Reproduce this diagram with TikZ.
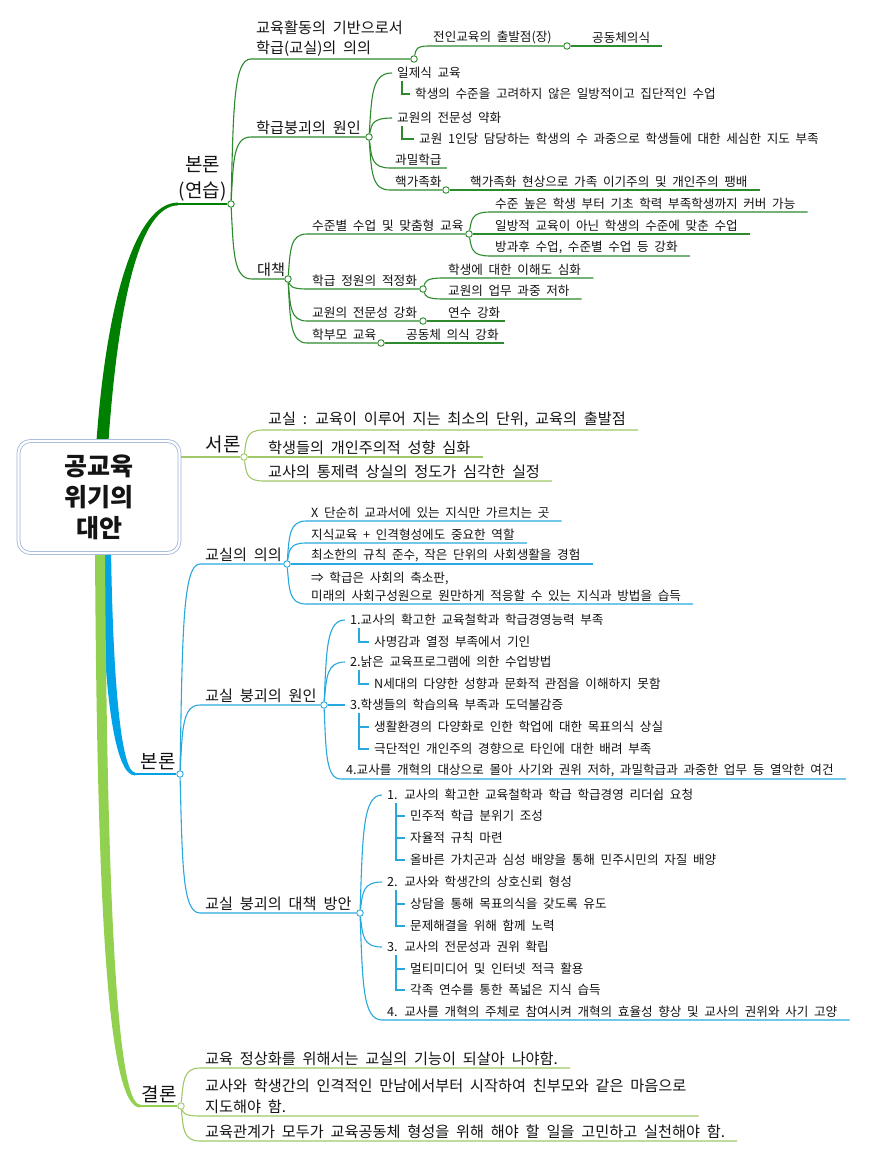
\documentclass[tikz,border=0pt]{standalone}
\usepackage{fontspec}
\setmainfont[WordSpace=2.0]{Noto Sans CJK KR}
\usetikzlibrary{positioning,calc,backgrounds}

\definecolor{ink}{RGB}{20,20,20}
\definecolor{deepgreen}{RGB}{0,128,0}
\definecolor{treegreen}{RGB}{45,138,45}
\definecolor{limegreen}{RGB}{146,208,80}
\definecolor{palegreen}{RGB}{160,200,105}
\definecolor{skyblue}{RGB}{0,162,232}
\definecolor{lineblue}{RGB}{40,168,222}
\definecolor{frameblue}{RGB}{160,180,215}

\tikzset{
  txt/.style={inner xsep=5pt, inner ysep=2pt, text=ink, align=left},
  lvlone/.style={txt, font=\fontsize{15.2}{20.5}\selectfont},
  lvltwo/.style={txt, font=\fontsize{12.7}{18}\selectfont},
  leaftxt/.style={txt, font=\fontsize{12.6}{18.5}\selectfont},
  bigtxt/.style={txt, font=\fontsize{15.2}{21.5}\selectfont},
  topictxt/.style={inner sep=2pt, text=ink, align=center, font=\fontsize{19}{26}\selectfont},
  rootbox/.style={draw=frameblue, double=white, double distance=2.2pt, line width=0.8pt,
    rounded corners=12pt, fill=white, minimum width=161pt, minimum height=112pt,
    align=center, text=ink, font=\fontsize{25}{31}\selectfont\bfseries},
  knob/.style={circle, fill=white, inner sep=0pt, minimum size=6.5pt, line width=0.9pt},
  tknob/.style={knob, draw=treegreen},
  pknob/.style={knob, draw=palegreen},
  bknob/.style={knob, draw=lineblue},
  tline/.style={draw=treegreen, line width=1.1pt},
  pline/.style={draw=palegreen, line width=1.1pt},
  bline/.style={draw=lineblue, line width=1.1pt},
  link/.style={to path={let \p1=(\tikztostart), \p2=(\tikztotarget) in
    .. controls ({\x1+0.12*(\x2-\x1)},{\y1+0.65*(\y2-\y1)}) and ({\x1+0.12*(\x2-\x1)},{\y2}) .. (\tikztotarget)}}
}

\begin{document}
\begin{tikzpicture}[x=1pt,y=-1pt]
   \useasboundingbox (0,0) rectangle (876,1156);

   \node[rootbox] at (99,497) (root) {공교육\\위기의\\대안};

   \node[topictxt, anchor=south east] at (229,203) (drill) {본론\\(연습)};
   \node[tknob] at (231,204) (kdrill) {};
   \coordinate (drillfoot) at (178,204);
   \node[lvlone, anchor=south west] at (251,59) (base) {교육활동의 기반으로서\\학급(교실)의 의의};
   \node[tknob] at (414,59) (kbase) {};
   \node[leaftxt, anchor=south west] at (428,46) (whole) {전인교육의 출발점(장)};
   \node[tknob] at (567,46) (kwhole) {};
   \node[leaftxt, anchor=south west] at (587,46) (commun) {공동체의식};
   \node[lvlone, anchor=south west] at (251,137) (cause) {학급붕괴의 원인};
   \node[tknob] at (369,137) (kcause) {};
   \node[leaftxt, anchor=west] at (392,73) (mass) {일제식 교육};
   \node[leaftxt, anchor=west] at (410,94) (massnote) {학생의 수준을 고려하지 않은 일방적이고 집단적인 수업};
   \node[leaftxt, anchor=west] at (392,118) (weak) {교원의 전문성 약화};
   \node[leaftxt, anchor=west] at (414,139) (weaknote) {교원 1인당 담당하는 학생의 수 과중으로 학생들에 대한 세심한 지도 부족};
   \node[leaftxt, anchor=south west] at (390,168) (crowd) {과밀학급};
   \node[leaftxt, anchor=south west] at (390,190) (nuclear) {핵가족화};
   \node[tknob] at (446,190) (knuclear) {};
   \node[leaftxt, anchor=south west] at (465,190) (selfish) {핵가족화 현상으로 가족 이기주의 및 개인주의 팽배};
   \node[lvlone, anchor=south west] at (252,279) (plan) {대책};
   \node[tknob] at (288,279) (kplan) {};
   \node[lvltwo, anchor=south west] at (307,234) (level) {수준별 수업 및 맞춤형 교육};
   \node[tknob] at (469,234) (klevel) {};
   \node[leaftxt, anchor=south west] at (490,212) (cover) {수준 높은 학생 부터 기초 학력 부족학생까지 커버 가능};
   \node[leaftxt, anchor=south west] at (490,234) (fit) {일방적 교육이 아닌 학생의 수준에 맞춘 수업};
   \node[leaftxt, anchor=south west] at (490,256) (after) {방과후 수업, 수준별 수업 등 강화};
   \node[lvltwo, anchor=south west] at (307,289) (quota) {학급 정원의 적정화};
   \node[tknob] at (423,289) (kquota) {};
   \node[leaftxt, anchor=south west] at (443,278) (know) {학생에 대한 이해도 심화};
   \node[leaftxt, anchor=south west] at (443,299) (load) {교원의 업무 과중 저하};
   \node[lvltwo, anchor=south west] at (307,321) (expert) {교원의 전문성 강화};
   \node[tknob] at (423,321) (kexpert) {};
   \node[leaftxt, anchor=south west] at (443,321) (train) {연수 강화};
   \node[lvltwo, anchor=south west] at (307,343) (parent) {학부모 교육};
   \node[tknob] at (381,343) (kparent) {};
   \node[leaftxt, anchor=south west] at (401,343) (bond) {공동체 의식 강화};

   \node[topictxt, anchor=south east] at (243,455) (intro) {서론};
   \node[pknob] at (244,457) (kintro) {};
   \node[bigtxt, anchor=south west] at (263,430) (unit) {교실 : 교육이 이루어 지는 최소의 단위, 교육의 출발점};
   \node[bigtxt, anchor=south west] at (263,457) (indiv) {학생들의 개인주의적 성향 심화};
   \node[bigtxt, anchor=south west] at (263,481) (control) {교사의 통제력 상실의 정도가 심각한 실정};

   \node[topictxt, anchor=south east] at (178,772) (body) {본론};
   \node[bknob] at (180,774) (kbody) {};
   \coordinate (bodyfoot) at (135,774);
   \node[lvlone, anchor=south west] at (200,564) (mean) {교실의 의의};
   \node[bknob] at (287,564) (kmean) {};
   \node[leaftxt, anchor=south west] at (306,521) (notjust) {X 단순히 교과서에 있는 지식만 가르치는 곳};
   \node[leaftxt, anchor=south west] at (306,543) (person) {지식교육 +  인격형성에도 중요한 역할};
   \node[leaftxt, anchor=south west] at (306,564) (rule) {최소한의 규칙 준수, 작은 단위의 사회생활을 경험};
   \node[leaftxt, anchor=south west] at (306,604) (mini) {⇒ 학급은 사회의 축소판,\\미래의 사회구성원으로 원만하게 적응할 수 있는 지식과 방법을 습득};
   \node[lvlone, anchor=south west] at (200,705) (collapse) {교실 붕괴의 원인};
   \node[bknob] at (324,705) (kcollapse) {};
   \node[leaftxt, anchor=west] at (345,620) (ca) {1.교사의 확고한 교육철학과 학급경영능력 부족};
   \node[leaftxt, anchor=west] at (369,642) (caa) {사명감과 열정 부족에서 기인};
   \node[leaftxt, anchor=west] at (345,662) (cb) {2.낡은 교육프로그램에 의한 수업방법};
   \node[leaftxt, anchor=west] at (369,684) (cba) {N세대의 다양한 성향과 문화적 관점을 이해하지 못함};
   \node[leaftxt, anchor=west] at (345,705) (cc) {3.학생들의 학습의욕 부족과 도덕불감증};
   \node[leaftxt, anchor=west] at (369,727) (cca) {생활환경의 다양화로 인한 학업에 대한 목표의식 상실};
   \node[leaftxt, anchor=west] at (369,749) (ccb) {극단적인 개인주의 경향으로 타인에 대한 배려 부족};
   \node[leaftxt, anchor=south west] at (341,779) (cd) {4.교사를 개혁의 대상으로 몰아 사기와 권위 저하, 과밀학급과 과중한 업무 등 열악한 여건};
   \node[lvlone, anchor=south west] at (200,913) (remedy) {교실 붕괴의 대책 방안};
   \node[bknob] at (360,913) (kremedy) {};
   \node[leaftxt, anchor=west] at (382,795) (ra) {1. 교사의 확고한 교육철학과 학급 학급경영 리더쉽 요청};
   \node[leaftxt, anchor=west] at (405,816) (raa) {민주적 학급 분위기 조성};
   \node[leaftxt, anchor=west] at (405,838) (rab) {자율적 규칙 마련};
   \node[leaftxt, anchor=west] at (405,860) (rac) {올바른 가치곤과 심성 배양을 통해 민주시민의 자질 배양};
   \node[leaftxt, anchor=west] at (382,882) (rb) {2. 교사와 학생간의 상호신뢰 형성};
   \node[leaftxt, anchor=west] at (405,904) (rba) {상담을 통해 목표의식을 갖도록 유도};
   \node[leaftxt, anchor=west] at (405,926) (rbb) {문제해결을 위해 함께 노력};
   \node[leaftxt, anchor=west] at (382,947) (rc) {3. 교사의 전문성과 권위 확립};
   \node[leaftxt, anchor=west] at (405,969) (rca) {멀티미디어 및 인터넷 적극 활용};
   \node[leaftxt, anchor=west] at (405,990) (rcb) {각족 연수를 통한 폭넓은 지식 습득};
   \node[leaftxt, anchor=south west] at (382,1020) (rd) {4. 교사를 개혁의 주체로 참여시켜 개혁의 효율성 향상 및 교사의 권위와 사기 고양};

   \node[topictxt, anchor=south east] at (179,1105) (concl) {결론};
   \node[pknob] at (181,1106) (kconcl) {};
   \coordinate (conclfoot) at (140,1106);
   \node[bigtxt, anchor=south west] at (200,1068) (normal) {교육 정상화를 위해서는 교실의 기능이 되살아 나야함.};
   \node[bigtxt, anchor=south west] at (200,1116) (meet) {교사와 학생간의 인격적인 만남에서부터 시작하여 친부모와 같은 마음으로\\지도해야 함.};
   \node[bigtxt, anchor=south west] at (200,1141) (duty) {교육관계가 모두가 교육공동체 형성을 위해 해야 할 일을 고민하고 실천해야 함.};

   \begin{scope}[on background layer]
   \fill[white] (0,0) rectangle (876,1156);
   \fill[skyblue] (101,548) .. controls (103,690) and (114,775.5) .. (bodyfoot |- 0,775.5)
      -- (bodyfoot |- 0,772.5) .. controls (122,772.5) and (113,690) .. (111,548) -- cycle;
   \fill[limegreen] (95,548) .. controls (97,900) and (107,1107.5) .. (conclfoot |- 0,1107.5)
      -- (conclfoot |- 0,1104.5) .. controls (117,1104.5) and (107,900) .. (105,548) -- cycle;
   \fill[deepgreen] (96,448) .. controls (106,300) and (136,202.5) .. (drillfoot |- 0,202.6)
      -- (drillfoot |- 0,205.4) .. controls (140,205.5) and (118,300) .. (108,448) -- cycle;

   \draw[draw=deepgreen, line width=1.6pt] (drillfoot) -- (kdrill);
   \draw[tline] (kdrill) to[link] (base.south west) -- (kbase);
   \draw[tline] (kbase) to[link] (whole.south west) -- (kwhole);
   \draw[tline] (kwhole) -- ([xshift=7pt]commun.south east);
   \draw[tline] (kdrill) to[link] (cause.south west) -- (kcause);
   \draw[tline] (kcause) to[link] (mass.west);
   \draw[tline] ([xshift=10pt]mass.south west) |- (massnote.west);
   \draw[tline] (kcause) to[link] (weak.west);
   \draw[tline] ([xshift=10pt]weak.south west) |- (weaknote.west);
   \draw[tline] (kcause) to[link] (crowd.south west) -- (crowd.south east);
   \draw[tline] (kcause) to[link] (nuclear.south west) -- (knuclear);
   \draw[tline] (knuclear) -- ([xshift=7pt]selfish.south east);
   \draw[tline] (kdrill) to[link] (plan.south west) -- (kplan);
   \draw[tline] (kplan) to[link] (level.south west) -- (klevel);
   \draw[tline] (klevel) to[link] (cover.south west) -- ([xshift=7pt]cover.south east);
   \draw[tline] (klevel) -- ([xshift=7pt]fit.south east);
   \draw[tline] (klevel) to[link] (after.south west) -- ([xshift=7pt]after.south east);
   \draw[tline] (kplan) to[link] (quota.south west) -- (kquota);
   \draw[tline] (kquota) to[link] (know.south west) -- ([xshift=7pt]know.south east);
   \draw[tline] (kquota) to[link] (load.south west) -- ([xshift=7pt]load.south east);
   \draw[tline] (kplan) to[link] (expert.south west) -- (kexpert);
   \draw[tline] (kexpert) -- (train.south east);
   \draw[tline] (kplan) to[link] (parent.south west) -- (kparent);
   \draw[tline] (kparent) -- (bond.south east);

   \draw[pline] (root.east |- kintro) -- (kintro);
   \draw[pline] (kintro) to[link] (unit.south west) -- ([xshift=7pt]unit.south east);
   \draw[pline] (kintro) -- ([xshift=7pt]indiv.south east);
   \draw[pline] (kintro) to[link] (control.south west) -- ([xshift=7pt]control.south east);

   \draw[draw=skyblue, line width=1.5pt] (bodyfoot) -- (kbody);
   \draw[bline] (kbody) to[link] (mean.south west) -- (kmean);
   \draw[bline] (kmean) to[link] (notjust.south west) -- ([xshift=7pt]notjust.south east);
   \draw[bline] (kmean) to[link] (person.south west) -- ([xshift=7pt]person.south east);
   \draw[bline] (kmean) -- ([xshift=7pt]rule.south east);
   \draw[bline] (kmean) to[link] (mini.south west) -- ([xshift=7pt]mini.south east);
   \draw[bline] (kbody) to[link] (collapse.south west) -- (kcollapse);
   \draw[bline] (kcollapse) to[link] (ca.west);
   \draw[bline] ([xshift=14pt]ca.south west) |- (caa.west);
   \draw[bline] (kcollapse) to[link] (cb.west);
   \draw[bline] ([xshift=14pt]cb.south west) |- (cba.west);
   \draw[bline] (kcollapse) -- (cc.west);
   \draw[bline] ([xshift=14pt]cc.south west) |- (cca.west);
   \draw[bline] ([xshift=14pt]cc.south west) |- (ccb.west);
   \draw[bline] (kcollapse) to[link] (cd.south west) -- ([xshift=7pt]cd.south east);
   \draw[bline] (kbody) to[link] (remedy.south west) -- (kremedy);
   \draw[bline] (kremedy) to[link] (ra.west);
   \draw[bline] ([xshift=14pt]ra.south west) |- (raa.west);
   \draw[bline] ([xshift=14pt]ra.south west) |- (rab.west);
   \draw[bline] ([xshift=14pt]ra.south west) |- (rac.west);
   \draw[bline] (kremedy) to[link] (rb.west);
   \draw[bline] ([xshift=14pt]rb.south west) |- (rba.west);
   \draw[bline] ([xshift=14pt]rb.south west) |- (rbb.west);
   \draw[bline] (kremedy) to[link] (rc.west);
   \draw[bline] ([xshift=14pt]rc.south west) |- (rca.west);
   \draw[bline] ([xshift=14pt]rc.south west) |- (rcb.west);
   \draw[bline] (kremedy) to[link] (rd.south west) -- ([xshift=7pt]rd.south east);

   \draw[draw=limegreen, line width=1.5pt] (conclfoot) -- (kconcl);
   \draw[pline] (kconcl) to[link] (normal.south west) -- ([xshift=7pt]normal.south east);
   \draw[pline] (kconcl) to[link] (meet.south west) -- ([xshift=7pt]meet.south east);
   \draw[pline] (kconcl) to[link] (duty.south west) -- ([xshift=7pt]duty.south east);
   \end{scope}
\end{tikzpicture}
\end{document}
